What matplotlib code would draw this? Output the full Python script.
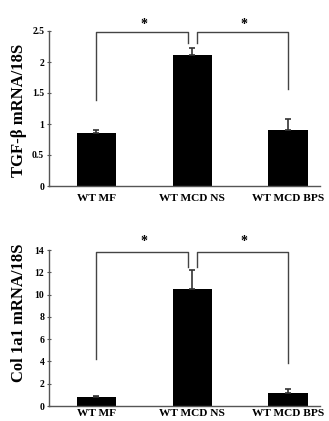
import matplotlib
matplotlib.use("Agg")
import matplotlib.pyplot as plt

categories = ["WT MF", "WT MCD NS", "WT MCD BPS"]
tgf_values = [0.86, 2.12, 0.90]
tgf_err = [0.05, 0.10, 0.18]
col_values = [0.84, 10.47, 1.14]
col_err = [0.10, 1.75, 0.36]

tgf_ticks = [0, 0.5, 1, 1.5, 2, 2.5]
tgf_ticklabels = ["0", "0.5", "1", "1.5", "2", "2.5"]
col_ticks = [0, 2, 4, 6, 8, 10, 12, 14]

plt.rcParams['font.family'] = ['Liberation Serif', 'DejaVu Serif']
plt.rcParams['font.weight'] = 'bold'

fig = plt.figure(figsize=(3.29, 4.21), dpi=100)
W, H = 329, 421

def make_ax(top_px, bottom_px):
    left, right = 49, 320
    return fig.add_axes([left / W, (H - bottom_px) / H, (right - left) / W, (bottom_px - top_px) / H])

ax1 = make_ax(31, 186)
ax2 = make_ax(250, 406)

x = list(range(len(categories)))

def style(ax, vals, errs, ymax, ticks, ticklabels, ylabel, label_y, xpad):
    ax.bar(x, vals, width=0.41, color='black', zorder=2)
    ax.errorbar(x, vals, yerr=[[0] * 3, errs], fmt='none', ecolor='#333333',
                elinewidth=1.2, capsize=2.5, capthick=1.2, zorder=3)
    ax.set_xlim(-0.495, 2.333)
    ax.set_ylim(0, ymax)
    ax.set_yticks(ticks)
    ax.set_yticklabels(ticklabels)
    ax.set_xticks(x)
    ax.set_xticklabels(categories)
    for s in ['top', 'right']:
        ax.spines[s].set_visible(False)
    for s in ['left', 'bottom']:
        ax.spines[s].set_color('#555555')
        ax.spines[s].set_linewidth(1.0)
    ax.tick_params(axis='y', direction='inout', length=3, width=0.8, color='#555555',
                   labelsize=7, pad=2)
    ax.tick_params(axis='x', length=0, labelsize=8.2, pad=xpad)
    ax.set_ylabel(ylabel, fontsize=12, fontweight='bold')
    ax.yaxis.set_label_coords(-0.081, label_y)

style(ax1, tgf_values, tgf_err, 2.5, tgf_ticks, tgf_ticklabels, "TGF-β mRNA/18S", 0.49, 6)
style(ax2, col_values, col_err, 14, col_ticks, [str(t) for t in col_ticks],
      "Col 1a1 mRNA/18S", 0.60, 2.5)

def brackets(ax, top, l_low, c_low, r_low, star_y):
    kw = dict(color='#444444', lw=1.0, clip_on=False)
    ax.plot([0, 0, 0.96, 0.96], [l_low, top, top, c_low], **kw)
    ax.plot([1.05, 1.05, 2.0, 2.0], [c_low, top, top, r_low], **kw)
    ax.text(0.5, star_y, "*", ha='center', va='center', fontsize=10, fontweight='bold')
    ax.text(1.54, star_y, "*", ha='center', va='center', fontsize=10, fontweight='bold')

brackets(ax1, 2.48, 1.39, 2.3, 1.56, 2.60)
brackets(ax2, 13.8, 4.2, 12.5, 3.9, 14.8)

fig.savefig("out.png", dpi=100)
